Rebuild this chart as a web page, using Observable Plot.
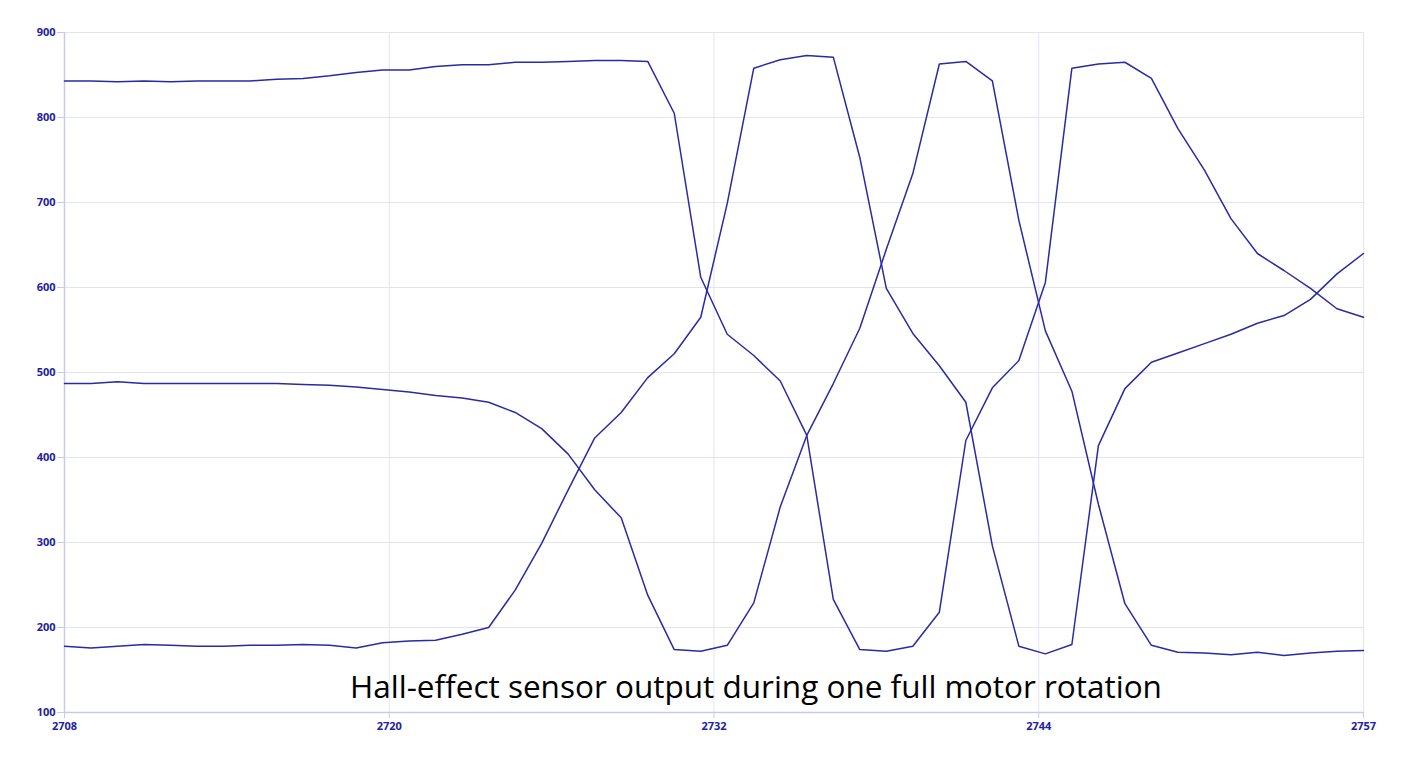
<!DOCTYPE html>
<html><head><meta charset="utf-8">
<script src="https://cdn.jsdelivr.net/npm/d3@7"></script>
<script src="https://cdn.jsdelivr.net/npm/@observablehq/plot@0.6"></script>
<style>
body{margin:0;background:#fff;}
#chart svg{display:block;}
</style>
</head><body><div id="chart"></div>
<script>
// ---- data ----
const firstSample = 2708;
const seriesA = [843,843,842,843,842,843,843,843,845,846,849,853,856,856,860,862,862,865,865,866,867,867,866,805,612,545,520,490,426,233,174,172,178,218,420,482,514,606,858,863,865,846,787,738,681,640,620,599,575,565];
const seriesB = [487,487,489,487,487,487,487,487,487,486,485,483,480,477,473,470,465,453,434,404,362,329,238,174,172,179,229,342,426,487,552,645,734,863,866,843,679,549,478,345,228,179,171,170,168,171,167,170,172,173];
const seriesC = [178,176,178,180,179,178,178,179,179,180,179,176,182,184,185,192,200,244,299,362,423,453,494,522,565,699,858,868,873,871,753,599,546,508,465,296,178,169,180,414,481,512,523,534,545,558,567,586,616,640];
const xTicks = [2708, 2720.25, 2732.5, 2744.75, 2757];
const yTicks = [100,200,300,400,500,600,700,800,900];
const title = "Hall-effect sensor output during one full motor rotation";

const rows = [["A", seriesA], ["B", seriesB], ["C", seriesC]]
  .flatMap(([name, vals]) => vals.map((v, i) => ({series: name, sample: firstSample + i, value: v})));

const gridColor = "#e3e3f6";
const axisColor = "#c9c9ef";
const labelColor = "#2020a4";
const lineColor = "#2a2aa4";

const chart = Plot.plot({
  width: 1412,
  height: 767,
  marginTop: 32,
  marginBottom: 55,
  marginLeft: 64,
  marginRight: 49,
  style: {fontFamily: "'Open Sans', sans-serif", fontSize: "11px", background: "#fff"},
  x: {domain: [2708, 2757]},
  y: {domain: [100, 900]},
  marks: [
    Plot.gridX(xTicks, {stroke: gridColor, strokeOpacity: 1}),
    Plot.gridY(yTicks, {stroke: gridColor, strokeOpacity: 1}),
    Plot.ruleX([2708], {stroke: axisColor, strokeWidth: 1.5}),
    Plot.ruleY([100], {stroke: axisColor, strokeWidth: 1.5}),
    Plot.axisX(xTicks, {tickFormat: d => String(Math.floor(d)), tickSize: 6, tickPadding: 4, stroke: axisColor, fill: labelColor, fontWeight: 700, label: null}),
    Plot.axisY(yTicks, {tickSize: 7, tickPadding: 2, stroke: axisColor, fill: labelColor, fontWeight: 700, label: null}),
    Plot.line(rows, {x: "sample", y: "value", z: "series", stroke: lineColor, strokeWidth: 1.5}),
    Plot.text([title], {frameAnchor: "bottom", lineAnchor: "middle", dx: 42, dy: -25, fontSize: 31.5, fill: "#000", fontFamily: "'Open Sans', sans-serif"})
  ]
});
document.getElementById("chart").appendChild(chart);
</script>
</body></html>
